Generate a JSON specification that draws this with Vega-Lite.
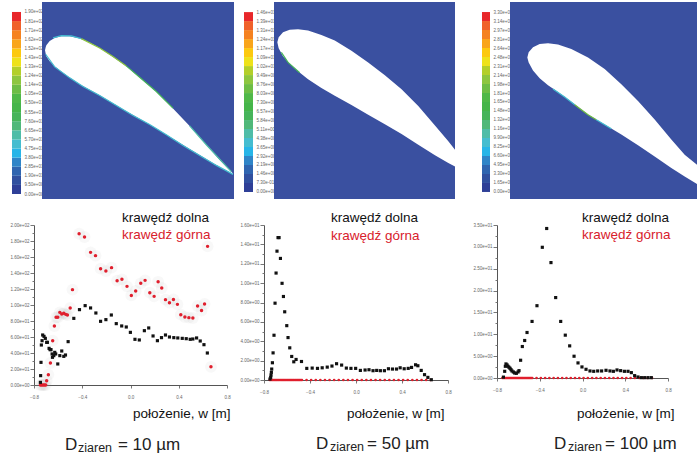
{
"$schema":"https://vega.github.io/schema/vega-lite/v6.json",
"background":"white",
"padding":{"left":10,"top":2,"right":0,"bottom":0},
"config":{"view":{"stroke":null},"font":"Liberation Sans",
"axis":{"labelFontSize":4.5,"labelColor":"#666","domainColor":"#555","tickColor":"#777","grid":false,"labelFlush":false,"labelOverlap":false}},
"datasets":{
"levels":[
{"level":1,"a0":0,"a1":9.5,"b0":0,"b1":0.73,"c0":0,"c1":1.65},
{"level":2,"a0":9.5,"a1":19,"b0":0.73,"b1":1.46,"c0":1.65,"c1":3.3},
{"level":3,"a0":19,"a1":28.5,"b0":1.46,"b1":2.19,"c0":3.3,"c1":4.95},
{"level":4,"a0":28.5,"a1":38,"b0":2.19,"b1":2.92,"c0":4.95,"c1":6.6},
{"level":5,"a0":38,"a1":47.5,"b0":2.92,"b1":3.65,"c0":6.6,"c1":8.25},
{"level":6,"a0":47.5,"a1":57,"b0":3.65,"b1":4.38,"c0":8.25,"c1":9.9},
{"level":7,"a0":57,"a1":66.5,"b0":4.38,"b1":5.11,"c0":9.9,"c1":11.55},
{"level":8,"a0":66.5,"a1":76,"b0":5.11,"b1":5.84,"c0":11.55,"c1":13.2},
{"level":9,"a0":76,"a1":85.5,"b0":5.84,"b1":6.57,"c0":13.2,"c1":14.85},
{"level":10,"a0":85.5,"a1":95,"b0":6.57,"b1":7.3,"c0":14.85,"c1":16.5},
{"level":11,"a0":95,"a1":104.5,"b0":7.3,"b1":8.03,"c0":16.5,"c1":18.15},
{"level":12,"a0":104.5,"a1":114,"b0":8.03,"b1":8.76,"c0":18.15,"c1":19.8},
{"level":13,"a0":114,"a1":123.5,"b0":8.76,"b1":9.49,"c0":19.8,"c1":21.45},
{"level":14,"a0":123.5,"a1":133,"b0":9.49,"b1":10.22,"c0":21.45,"c1":23.1},
{"level":15,"a0":133,"a1":142.5,"b0":10.22,"b1":10.95,"c0":23.1,"c1":24.75},
{"level":16,"a0":142.5,"a1":152,"b0":10.95,"b1":11.68,"c0":24.75,"c1":26.4},
{"level":17,"a0":152,"a1":161.5,"b0":11.68,"b1":12.41,"c0":26.4,"c1":28.05},
{"level":18,"a0":161.5,"a1":171,"b0":12.41,"b1":13.14,"c0":28.05,"c1":29.7},
{"level":19,"a0":171,"a1":180.5,"b0":13.14,"b1":13.87,"c0":29.7,"c1":31.35},
{"level":20,"a0":180.5,"a1":190,"b0":13.87,"b1":14.6,"c0":31.35,"c1":33}],
"foil1":[{"x":136,"top":150,"bot":150},{"x":138,"top":141,"bot":160},{"x":140,"top":135,"bot":168},{"x":150,"top":122,"bot":183},{"x":165,"top":113,"bot":198},{"x":185,"top":108,"bot":214},{"x":210,"top":108,"bot":232},{"x":240,"top":115,"bot":252},{"x":270,"top":127,"bot":269},{"x":300,"top":143,"bot":285},{"x":340,"top":170,"bot":309},{"x":380,"top":198,"bot":333},{"x":420,"top":232,"bot":356},{"x":470,"top":275,"bot":385},{"x":520,"top":325,"bot":416},{"x":570,"top":378,"bot":447},{"x":620,"top":435,"bot":477},{"x":660,"top":480,"bot":501},{"x":700,"top":520,"bot":522}],
"foil2":[{"x":128,"top":130,"bot":130},{"x":132,"top":115,"bot":148},{"x":145,"top":100,"bot":172},{"x":165,"top":93,"bot":194},{"x":190,"top":91,"bot":216},{"x":220,"top":95,"bot":240},{"x":260,"top":108,"bot":266},{"x":300,"top":125,"bot":289},{"x":350,"top":155,"bot":317},{"x":400,"top":190,"bot":346},{"x":450,"top":228,"bot":374},{"x":500,"top":270,"bot":403},{"x":550,"top":320,"bot":435},{"x":600,"top":378,"bot":467},{"x":640,"top":425,"bot":490},{"x":660,"top":450,"bot":500}],
"foil3":[{"x":188,"top":175,"bot":175},{"x":192,"top":160,"bot":190},{"x":205,"top":145,"bot":214},{"x":225,"top":135,"bot":237},{"x":250,"top":133,"bot":258},{"x":280,"top":137,"bot":278},{"x":320,"top":150,"bot":307},{"x":370,"top":175,"bot":345},{"x":420,"top":210,"bot":375},{"x":470,"top":255,"bot":405},{"x":520,"top":305,"bot":437},{"x":570,"top":360,"bot":470},{"x":620,"top":420,"bot":505},{"x":660,"top":465,"bot":530},{"x":697,"top":495,"bot":552}],
"edge1":[
{"seg":"a","level":6,"x":160,"y":113},{"seg":"a","level":6,"x":185,"y":106},{"seg":"a","level":6,"x":215,"y":107},{"seg":"a","level":6,"x":245,"y":115},
{"seg":"b","level":13,"x":245,"y":115},{"seg":"b","level":13,"x":300,"y":143},{"seg":"b","level":13,"x":340,"y":169},{"seg":"b","level":13,"x":380,"y":197},
{"seg":"c","level":9,"x":380,"y":197},{"seg":"c","level":9,"x":420,"y":231},{"seg":"c","level":9,"x":470,"y":274},{"seg":"c","level":9,"x":520,"y":324},{"seg":"c","level":7,"x":570,"y":377},{"seg":"c","level":7,"x":620,"y":434},{"seg":"c","level":7,"x":695,"y":515},
{"seg":"d","level":6,"x":138,"y":162},{"seg":"d","level":6,"x":165,"y":200},{"seg":"d","level":6,"x":210,"y":233},{"seg":"d","level":6,"x":250,"y":259},{"seg":"d","level":6,"x":300,"y":286},{"seg":"d","level":6,"x":350,"y":316},{"seg":"d","level":6,"x":400,"y":346},{"seg":"d","level":6,"x":450,"y":373},{"seg":"d","level":6,"x":500,"y":404},{"seg":"d","level":6,"x":550,"y":436},{"seg":"d","level":6,"x":600,"y":466},{"seg":"d","level":6,"x":650,"y":496},{"seg":"d","level":6,"x":700,"y":523}],
"edge2":[{"seg":"a","level":9,"x":140,"y":160},{"seg":"a","level":9,"x":160,"y":190},{"seg":"a","level":9,"x":195,"y":221}],
"edge3":[{"seg":"a","level":6,"x":265,"y":269},{"seg":"a","level":6,"x":300,"y":293},{"seg":"a","level":6,"x":330,"y":316},
{"seg":"b","level":12,"x":330,"y":316},{"seg":"b","level":12,"x":370,"y":346},{"seg":"b","level":12,"x":395,"y":361},
{"seg":"c","level":6,"x":395,"y":361},{"seg":"c","level":6,"x":440,"y":388}],
"c1d":[{"x":-0.747,"y":3.3},{"x":-0.745,"y":11.7},{"x":-0.742,"y":28.3},{"x":-0.739,"y":50},{"x":-0.733,"y":55.4},{"x":-0.728,"y":62.5},{"x":-0.717,"y":60.8},{"x":-0.706,"y":58.3},{"x":-0.695,"y":53.3},{"x":-0.689,"y":53.3},{"x":-0.675,"y":45.8},{"x":-0.667,"y":44.2},{"x":-0.659,"y":44.2},{"x":-0.65,"y":38.8},{"x":-0.647,"y":34.6},{"x":-0.636,"y":36.7},{"x":-0.628,"y":40.8},{"x":-0.62,"y":38.8},{"x":-0.603,"y":26.3},{"x":-0.586,"y":36.7},{"x":-0.57,"y":42.5},{"x":-0.553,"y":35.8},{"x":-0.539,"y":37.5},{"x":-0.517,"y":54.2},{"x":-0.47,"y":83.3},{"x":-0.423,"y":94.2},{"x":-0.376,"y":99.2},{"x":-0.331,"y":96.3},{"x":-0.287,"y":90},{"x":-0.248,"y":79.6},{"x":-0.204,"y":81.7},{"x":-0.159,"y":87.5},{"x":-0.118,"y":76.7},{"x":-0.073,"y":73.8},{"x":-0.035,"y":72.5},{"x":-0.001,"y":65.8},{"x":0.037,"y":57.1},{"x":0.073,"y":56.3},{"x":0.115,"y":67.9},{"x":0.151,"y":71.3},{"x":0.187,"y":61.3},{"x":0.223,"y":55.4},{"x":0.257,"y":59.2},{"x":0.29,"y":62.5},{"x":0.323,"y":60},{"x":0.359,"y":59.2},{"x":0.392,"y":58.8},{"x":0.429,"y":58.3},{"x":0.462,"y":57.9},{"x":0.495,"y":57.1},{"x":0.517,"y":57.5},{"x":0.548,"y":58.8},{"x":0.578,"y":55},{"x":0.609,"y":50.4},{"x":0.637,"y":40}],
"c1g":[{"x":-0.747,"y":0},{"x":-0.736,"y":0},{"x":-0.725,"y":0},{"x":-0.714,"y":0},{"x":-0.703,"y":0},{"x":-0.695,"y":5.4},{"x":-0.681,"y":12.9},{"x":-0.664,"y":27.5},{"x":-0.645,"y":55.4},{"x":-0.631,"y":73.8},{"x":-0.617,"y":84.6},{"x":-0.603,"y":84.6},{"x":-0.586,"y":90.8},{"x":-0.57,"y":88.8},{"x":-0.553,"y":89.6},{"x":-0.537,"y":88.3},{"x":-0.523,"y":87.5},{"x":-0.5,"y":96.3},{"x":-0.481,"y":119.2},{"x":-0.426,"y":189.1},{"x":-0.381,"y":185},{"x":-0.331,"y":165.8},{"x":-0.29,"y":161.7},{"x":-0.248,"y":145.4},{"x":-0.204,"y":142.5},{"x":-0.157,"y":146.7},{"x":-0.111,"y":130.4},{"x":-0.071,"y":132.1},{"x":-0.029,"y":123.3},{"x":0.007,"y":112},{"x":0.043,"y":117.5},{"x":0.085,"y":127.1},{"x":0.121,"y":130.8},{"x":0.16,"y":115.4},{"x":0.196,"y":110.8},{"x":0.229,"y":129},{"x":0.259,"y":121.3},{"x":0.29,"y":106.7},{"x":0.323,"y":102.9},{"x":0.356,"y":107},{"x":0.389,"y":100.8},{"x":0.417,"y":87.9},{"x":0.451,"y":85},{"x":0.484,"y":84.2},{"x":0.517,"y":83.8},{"x":0.556,"y":98.8},{"x":0.589,"y":93},{"x":0.614,"y":101.3},{"x":0.639,"y":173.3},{"x":0.667,"y":22.7}],
"c2d":[{"x":-0.748,"y":0.1},{"x":-0.742,"y":0.27},{"x":-0.739,"y":0.51},{"x":-0.736,"y":0.79},{"x":-0.733,"y":1.13},{"x":-0.727,"y":1.78},{"x":-0.721,"y":2.8},{"x":-0.713,"y":4.62},{"x":-0.704,"y":7.93},{"x":-0.695,"y":11.04},{"x":-0.687,"y":13.3},{"x":-0.678,"y":14.7},{"x":-0.669,"y":14.7},{"x":-0.657,"y":12.55},{"x":-0.643,"y":9.98},{"x":-0.631,"y":8.62},{"x":-0.62,"y":7.04},{"x":-0.602,"y":5.61},{"x":-0.591,"y":4.38},{"x":-0.576,"y":3.32},{"x":-0.559,"y":2.43},{"x":-0.541,"y":1.88},{"x":-0.521,"y":2.12},{"x":-0.474,"y":1.91},{"x":-0.428,"y":1.2},{"x":-0.381,"y":1.23},{"x":-0.335,"y":1.2},{"x":-0.294,"y":1.26},{"x":-0.25,"y":1.33},{"x":-0.209,"y":1.44},{"x":-0.169,"y":1.68},{"x":-0.125,"y":1.54},{"x":-0.084,"y":1.23},{"x":-0.044,"y":1.2},{"x":-0.003,"y":1.2},{"x":0.038,"y":0.99},{"x":0.079,"y":1.03},{"x":0.113,"y":1.06},{"x":0.148,"y":0.96},{"x":0.18,"y":0.99},{"x":0.212,"y":0.96},{"x":0.247,"y":0.96},{"x":0.282,"y":1.16},{"x":0.317,"y":1.13},{"x":0.352,"y":1.13},{"x":0.384,"y":1.26},{"x":0.419,"y":1.16},{"x":0.454,"y":1.2},{"x":0.483,"y":1.3},{"x":0.518,"y":1.57},{"x":0.538,"y":1.47},{"x":0.567,"y":0.99},{"x":0.596,"y":0.55},{"x":0.625,"y":0.27},{"x":0.655,"y":0.03}],
"c3d":[{"x":-0.74,"y":0.2},{"x":-0.728,"y":1.53},{"x":-0.722,"y":2.68},{"x":-0.716,"y":3.22},{"x":-0.706,"y":2.99},{"x":-0.697,"y":2.68},{"x":-0.688,"y":2.45},{"x":-0.678,"y":2.22},{"x":-0.669,"y":1.91},{"x":-0.66,"y":1.61},{"x":-0.647,"y":1.38},{"x":-0.635,"y":1.15},{"x":-0.619,"y":1.07},{"x":-0.603,"y":1.38},{"x":-0.594,"y":1.68},{"x":-0.579,"y":4.06},{"x":-0.563,"y":7.2},{"x":-0.541,"y":8.58},{"x":-0.519,"y":10.41},{"x":-0.472,"y":12.94},{"x":-0.426,"y":16.54},{"x":-0.376,"y":29.9},{"x":-0.335,"y":34.2},{"x":-0.295,"y":26.4},{"x":-0.251,"y":18.4},{"x":-0.204,"y":12.94},{"x":-0.161,"y":9.8},{"x":-0.12,"y":7.35},{"x":-0.079,"y":4.98},{"x":-0.042,"y":3.45},{"x":-0.005,"y":2.53},{"x":0.033,"y":1.99},{"x":0.07,"y":1.61},{"x":0.105,"y":1.53},{"x":0.142,"y":1.61},{"x":0.179,"y":1.61},{"x":0.22,"y":1.76},{"x":0.257,"y":1.61},{"x":0.289,"y":1.53},{"x":0.323,"y":1.84},{"x":0.357,"y":1.68},{"x":0.392,"y":1.53},{"x":0.426,"y":1.53},{"x":0.457,"y":1.23},{"x":0.488,"y":0.54},{"x":0.519,"y":0.23},{"x":0.551,"y":0.08},{"x":0.582,"y":0.08},{"x":0.613,"y":0.08},{"x":0.644,"y":0.08}],
"zeros":[{"x":-0.75,"y":0},{"x":-0.74,"y":0},{"x":-0.73,"y":0},{"x":-0.72,"y":0},{"x":-0.71,"y":0},{"x":-0.7,"y":0},{"x":-0.69,"y":0},{"x":-0.68,"y":0},{"x":-0.67,"y":0},{"x":-0.66,"y":0},{"x":-0.65,"y":0},{"x":-0.64,"y":0},{"x":-0.63,"y":0},{"x":-0.62,"y":0},{"x":-0.61,"y":0},{"x":-0.6,"y":0},{"x":-0.59,"y":0},{"x":-0.58,"y":0},{"x":-0.57,"y":0},{"x":-0.56,"y":0},{"x":-0.55,"y":0},{"x":-0.54,"y":0},{"x":-0.53,"y":0},{"x":-0.52,"y":0},{"x":-0.51,"y":0},{"x":-0.5,"y":0},{"x":-0.49,"y":0},{"x":-0.48,"y":0},{"x":-0.47,"y":0},{"x":-0.43,"y":0},{"x":-0.39,"y":0},{"x":-0.35,"y":0},{"x":-0.31,"y":0},{"x":-0.27,"y":0},{"x":-0.23,"y":0},{"x":-0.19,"y":0},{"x":-0.15,"y":0},{"x":-0.11,"y":0},{"x":-0.07,"y":0},{"x":-0.03,"y":0},{"x":0.01,"y":0},{"x":0.05,"y":0},{"x":0.09,"y":0},{"x":0.13,"y":0},{"x":0.17,"y":0},{"x":0.21,"y":0},{"x":0.25,"y":0},{"x":0.29,"y":0},{"x":0.33,"y":0},{"x":0.37,"y":0},{"x":0.41,"y":0},{"x":0.45,"y":0},{"x":0.49,"y":0},{"x":0.53,"y":0},{"x":0.57,"y":0},{"x":0.61,"y":0},{"x":0.65,"y":0}]
},
"spacing":12,
"vconcat":[
{"spacing":0,"bounds":"flush","hconcat":[
{"width":9,"height":197,"data":{"name":"levels"},"mark":"rect","encoding":{
"y":{"field":"a0","type":"quantitative","title":null,"scale":{"domain":[-5.2,200.4],"nice":false,"zero":false},"axis":{"orient":"right","domain":false,"ticks":false,"labelPadding":3,"values":[0,9.5,19,28.5,38,47.5,57,66.5,76,85.5,95,104.5,114,123.5,133,142.5,152,161.5,171,180.5,190],"labelExpr":"replace(format(datum.value,'.2e'),/e([+-])(\\d)$/,'e$10$2')"}},
"y2":{"field":"a1"},
"color":{"field":"level","type":"ordinal","legend":null,"scale":{"domain":[1,2,3,4,5,6,7,8,9,10,11,12,13,14,15,16,17,18,19,20],"range":["#2e3f97","#30509f","#2f65b0","#2f85c8","#27b5e8","#45bdd0","#4fbda8","#50b87a","#46b45a","#45b549","#4fb848","#6dbd45","#8dc63f","#b3cf2a","#eee21a","#fcc90f","#f9a51b","#f58220","#f0612a","#e8272a"]}}}},
{"width":21,"height":1,"data":{"values":[]},"mark":"rect"},
{"width":192,"height":197,"view":{"fill":"#3a50a0"},"layer":[
{"data":{"name":"foil1"},"mark":{"type":"area","color":"white"},"encoding":{
"x":{"field":"x","type":"quantitative","axis":null,"scale":{"domain":[127,703],"nice":false,"zero":false}},
"y":{"field":"top","type":"quantitative","axis":null,"scale":{"domain":[597,5],"nice":false,"zero":false}},
"y2":{"field":"bot"}}},
{"data":{"name":"edge1"},"mark":{"type":"line","strokeWidth":1.2},"encoding":{
"x":{"field":"x","type":"quantitative"},
"y":{"field":"y","type":"quantitative"},
"detail":{"field":"seg"},
"color":{"field":"level","type":"ordinal","legend":null}}}]},
{"width":10,"height":1,"data":{"values":[]},"mark":"rect"},
{"width":9,"height":197,"data":{"name":"levels"},"mark":"rect","encoding":{
"y":{"field":"b0","type":"quantitative","title":null,"scale":{"domain":[-0.57,15.42],"nice":false,"zero":false},"axis":{"orient":"right","domain":false,"ticks":false,"labelPadding":3,"values":[0,0.73,1.46,2.19,2.92,3.65,4.38,5.11,5.84,6.57,7.3,8.03,8.76,9.49,10.22,10.95,11.68,12.41,13.14,13.87,14.6],"labelExpr":"replace(format(datum.value,'.2e'),/e([+-])(\\d)$/,'e$10$2')"}},
"y2":{"field":"b1"},
"color":{"field":"level","type":"ordinal","legend":null}}},
{"width":21,"height":1,"data":{"values":[]},"mark":"rect"},
{"width":181,"height":197,"view":{"fill":"#3a50a0"},"layer":[
{"data":{"name":"foil2"},"mark":{"type":"area","color":"white"},"encoding":{
"x":{"field":"x","type":"quantitative","axis":null,"scale":{"domain":[118,660],"nice":false,"zero":false}},
"y":{"field":"top","type":"quantitative","axis":null,"scale":{"domain":[597,10],"nice":false,"zero":false}},
"y2":{"field":"bot"}}},
{"data":{"name":"edge2"},"mark":{"type":"line","strokeWidth":1.2},"encoding":{
"x":{"field":"x","type":"quantitative"},
"y":{"field":"y","type":"quantitative"},
"detail":{"field":"seg"},
"color":{"field":"level","type":"ordinal","legend":null}}}]},
{"width":27,"height":1,"data":{"values":[]},"mark":"rect"},
{"width":8,"height":197,"data":{"name":"levels"},"mark":"rect","encoding":{
"y":{"field":"c0","type":"quantitative","title":null,"scale":{"domain":[-1.29,34.84],"nice":false,"zero":false},"axis":{"orient":"right","domain":false,"ticks":false,"labelPadding":3,"values":[0,1.65,3.3,4.95,6.6,8.25,9.9,11.55,13.2,14.85,16.5,18.15,19.8,21.45,23.1,24.75,26.4,28.05,29.7,31.35,33],"labelExpr":"replace(format(datum.value,'.2e'),/e([+-])(\\d)$/,'e$10$2')"}},
"y2":{"field":"c1"},
"color":{"field":"level","type":"ordinal","legend":null}}},
{"width":20,"height":1,"data":{"values":[]},"mark":"rect"},
{"width":187,"height":197,"view":{"fill":"#3a50a0"},"layer":[
{"data":{"name":"foil3"},"mark":{"type":"area","color":"white"},"encoding":{
"x":{"field":"x","type":"quantitative","axis":null,"scale":{"domain":[136,697],"nice":false,"zero":false}},
"y":{"field":"top","type":"quantitative","axis":null,"scale":{"domain":[597,10],"nice":false,"zero":false}},
"y2":{"field":"bot"}}},
{"data":{"name":"edge3"},"mark":{"type":"line","strokeWidth":1.2},"encoding":{
"x":{"field":"x","type":"quantitative"},
"y":{"field":"y","type":"quantitative"},
"detail":{"field":"seg"},
"color":{"field":"level","type":"ordinal","legend":null}}}]}
]},
{"spacing":0,"bounds":"flush","hconcat":[
{"width":22,"height":1,"data":{"values":[]},"mark":"rect"},
{"width":193,"height":160,"resolve":{"axis":{"y":"independent"}},"layer":[
{"data":{"name":"c1g"},"mark":{"type":"point","filled":true,"shape":"circle","size":140,"color":"#999","opacity":0.07},"encoding":{
"x":{"field":"x","type":"quantitative","scale":{"domain":[-0.8,0.8],"nice":false,"zero":false},"axis":{"title":"położenie, w [m]","titleFont":"Liberation Sans","titleFontSize":13.5,"titleFontWeight":"normal","titleColor":"#111","titleAlign":"right","titleBaseline":"middle","titleX":196,"titleY":28,"values":[-0.8,-0.6,-0.4,-0.2,0,0.2,0.4,0.6,0.8],"tickSize":3,"labelPadding":6}},
"y":{"field":"y","type":"quantitative","scale":{"domain":[0,200],"nice":false},"axis":{"title":null,"orient":"left","values":[0,20,40,60,80,100,120,140,160,180,200],"tickSize":4,"labelPadding":1,"labelExpr":"replace(format(datum.value,'.2e'),/e([+-])(\\d)$/,'e$10$2')"}}}},
{"data":{"name":"c1g"},"mark":{"type":"point","filled":true,"shape":"circle","size":12,"color":"#e01f2d","opacity":1},"encoding":{
"x":{"field":"x","type":"quantitative"},
"y":{"field":"y","type":"quantitative","axis":{"title":null,"orient":"left","values":[10,30,50,70,90,110,130,150,170,190],"tickSize":2,"labels":false,"domain":false}}}},
{"data":{"name":"c1d"},"mark":{"type":"point","filled":true,"shape":"square","size":10,"color":"#111","opacity":1},"encoding":{
"x":{"field":"x","type":"quantitative"},"y":{"field":"y","type":"quantitative","axis":null}}},
{"data":{"values":[{"label":"krawędź dolna","x":-0.07,"y":208.75}]},"mark":{"type":"text","align":"left","baseline":"middle","fontSize":13.5,"color":"#111"},"encoding":{"x":{"field":"x","type":"quantitative"},"y":{"field":"y","type":"quantitative","axis":null},"text":{"field":"label"}}},
{"data":{"values":[{"label":"krawędź górna","x":-0.07,"y":187.5}]},"mark":{"type":"text","align":"left","baseline":"middle","fontSize":13.5,"color":"#d8202c"},"encoding":{"x":{"field":"x","type":"quantitative"},"y":{"field":"y","type":"quantitative","axis":null},"text":{"field":"label"}}},
{"data":{"values":[{"label":"D","x":-0.543,"y":-81.25},{"label":"= 10 µm","x":-0.104,"y":-81.25}]},"mark":{"type":"text","align":"left","baseline":"alphabetic","fontSize":17,"color":"#222"},"encoding":{"x":{"field":"x","type":"quantitative"},"y":{"field":"y","type":"quantitative","axis":null},"text":{"field":"label"}}},
{"data":{"values":[{"label":"ziaren","x":-0.435,"y":-83.75}]},"mark":{"type":"text","align":"left","baseline":"alphabetic","fontSize":12.5,"color":"#222"},"encoding":{"x":{"field":"x","type":"quantitative"},"y":{"field":"y","type":"quantitative","axis":null},"text":{"field":"label"}}}
]},
{"width":37,"height":1,"data":{"values":[]},"mark":"rect"},
{"width":184,"height":155,"resolve":{"axis":{"y":"independent"}},"layer":[
{"data":{"name":"zeros"},"mark":{"type":"point","filled":true,"shape":"circle","size":7,"color":"#e01f2d","opacity":1},"encoding":{
"x":{"field":"x","type":"quantitative","scale":{"domain":[-0.8,0.8],"nice":false,"zero":false},"axis":{"title":"położenie, w [m]","titleFont":"Liberation Sans","titleFontSize":13.5,"titleFontWeight":"normal","titleColor":"#111","titleAlign":"right","titleBaseline":"middle","titleX":180,"titleY":33,"values":[-0.8,-0.6,-0.4,-0.2,0,0.2,0.4,0.6,0.8],"tickSize":3,"labelPadding":6}},
"y":{"field":"y","type":"quantitative","scale":{"domain":[0,16],"nice":false},"axis":{"title":null,"orient":"left","values":[0,2,4,6,8,10,12,14,16],"tickSize":4,"labelPadding":1,"labelExpr":"replace(format(datum.value,'.2e'),/e([+-])(\\d)$/,'e$10$2')"}}}},
{"data":{"name":"c2d"},"mark":{"type":"point","filled":true,"shape":"square","size":10,"color":"#111","opacity":1},"encoding":{
"x":{"field":"x","type":"quantitative"},
"y":{"field":"y","type":"quantitative","axis":{"title":null,"orient":"left","values":[1,3,5,7,9,11,13,15],"tickSize":2,"labels":false,"domain":false}}}},
{"data":{"values":[{"label":"krawędź dolna","x":-0.217,"y":16.7}]},"mark":{"type":"text","align":"left","baseline":"middle","fontSize":13.5,"color":"#111"},"encoding":{"x":{"field":"x","type":"quantitative"},"y":{"field":"y","type":"quantitative","axis":null},"text":{"field":"label"}}},
{"data":{"values":[{"label":"krawędź górna","x":-0.217,"y":14.9}]},"mark":{"type":"text","align":"left","baseline":"middle","fontSize":13.5,"color":"#d8202c"},"encoding":{"x":{"field":"x","type":"quantitative"},"y":{"field":"y","type":"quantitative","axis":null},"text":{"field":"label"}}},
{"data":{"values":[{"label":"D","x":-0.348,"y":-7.12},{"label":"= 50 µm","x":0.096,"y":-7.12}]},"mark":{"type":"text","align":"left","baseline":"alphabetic","fontSize":17,"color":"#222"},"encoding":{"x":{"field":"x","type":"quantitative"},"y":{"field":"y","type":"quantitative","axis":null},"text":{"field":"label"}}},
{"data":{"values":[{"label":"ziaren","x":-0.226,"y":-7.33}]},"mark":{"type":"text","align":"left","baseline":"alphabetic","fontSize":12.5,"color":"#222"},"encoding":{"x":{"field":"x","type":"quantitative"},"y":{"field":"y","type":"quantitative","axis":null},"text":{"field":"label"}}}
]},
{"width":49,"height":1,"data":{"values":[]},"mark":"rect"},
{"width":171,"height":153,"resolve":{"axis":{"y":"independent"}},"layer":[
{"data":{"name":"zeros"},"mark":{"type":"point","filled":true,"shape":"circle","size":7,"color":"#e01f2d","opacity":1},"encoding":{
"x":{"field":"x","type":"quantitative","scale":{"domain":[-0.8,0.8],"nice":false,"zero":false},"axis":{"title":"położenie, w [m]","titleFont":"Liberation Sans","titleFontSize":13.5,"titleFontWeight":"normal","titleColor":"#111","titleAlign":"right","titleBaseline":"middle","titleX":177,"titleY":35,"values":[-0.8,-0.6,-0.4,-0.2,0,0.2,0.4,0.6,0.8],"tickSize":3,"labelPadding":6}},
"y":{"field":"y","type":"quantitative","scale":{"domain":[0,35],"nice":false},"axis":{"title":null,"orient":"left","values":[0,5,10,15,20,25,30,35],"tickSize":4,"labelPadding":1,"labelExpr":"replace(format(datum.value,'.2e'),/e([+-])(\\d)$/,'e$10$2')"}}}},
{"data":{"name":"c3d"},"mark":{"type":"point","filled":true,"shape":"square","size":10,"color":"#111","opacity":1},"encoding":{
"x":{"field":"x","type":"quantitative"},
"y":{"field":"y","type":"quantitative","axis":{"title":null,"orient":"left","values":[2.5,7.5,12.5,17.5,22.5,27.5,32.5],"tickSize":2,"labels":false,"domain":false}}}},
{"data":{"values":[{"label":"krawędź dolna","x":-0.005,"y":36.6}]},"mark":{"type":"text","align":"left","baseline":"middle","fontSize":13.5,"color":"#111"},"encoding":{"x":{"field":"x","type":"quantitative"},"y":{"field":"y","type":"quantitative","axis":null},"text":{"field":"label"}}},
{"data":{"values":[{"label":"krawędź górna","x":-0.005,"y":32.7}]},"mark":{"type":"text","align":"left","baseline":"middle","fontSize":13.5,"color":"#d8202c"},"encoding":{"x":{"field":"x","type":"quantitative"},"y":{"field":"y","type":"quantitative","axis":null},"text":{"field":"label"}}},
{"data":{"values":[{"label":"D","x":-0.267,"y":-16.25},{"label":"= 100 µm","x":0.211,"y":-16.25}]},"mark":{"type":"text","align":"left","baseline":"alphabetic","fontSize":17,"color":"#222"},"encoding":{"x":{"field":"x","type":"quantitative"},"y":{"field":"y","type":"quantitative","axis":null},"text":{"field":"label"}}},
{"data":{"values":[{"label":"ziaren","x":-0.136,"y":-16.7}]},"mark":{"type":"text","align":"left","baseline":"alphabetic","fontSize":12.5,"color":"#222"},"encoding":{"x":{"field":"x","type":"quantitative"},"y":{"field":"y","type":"quantitative","axis":null},"text":{"field":"label"}}}
]}
]}
]}
